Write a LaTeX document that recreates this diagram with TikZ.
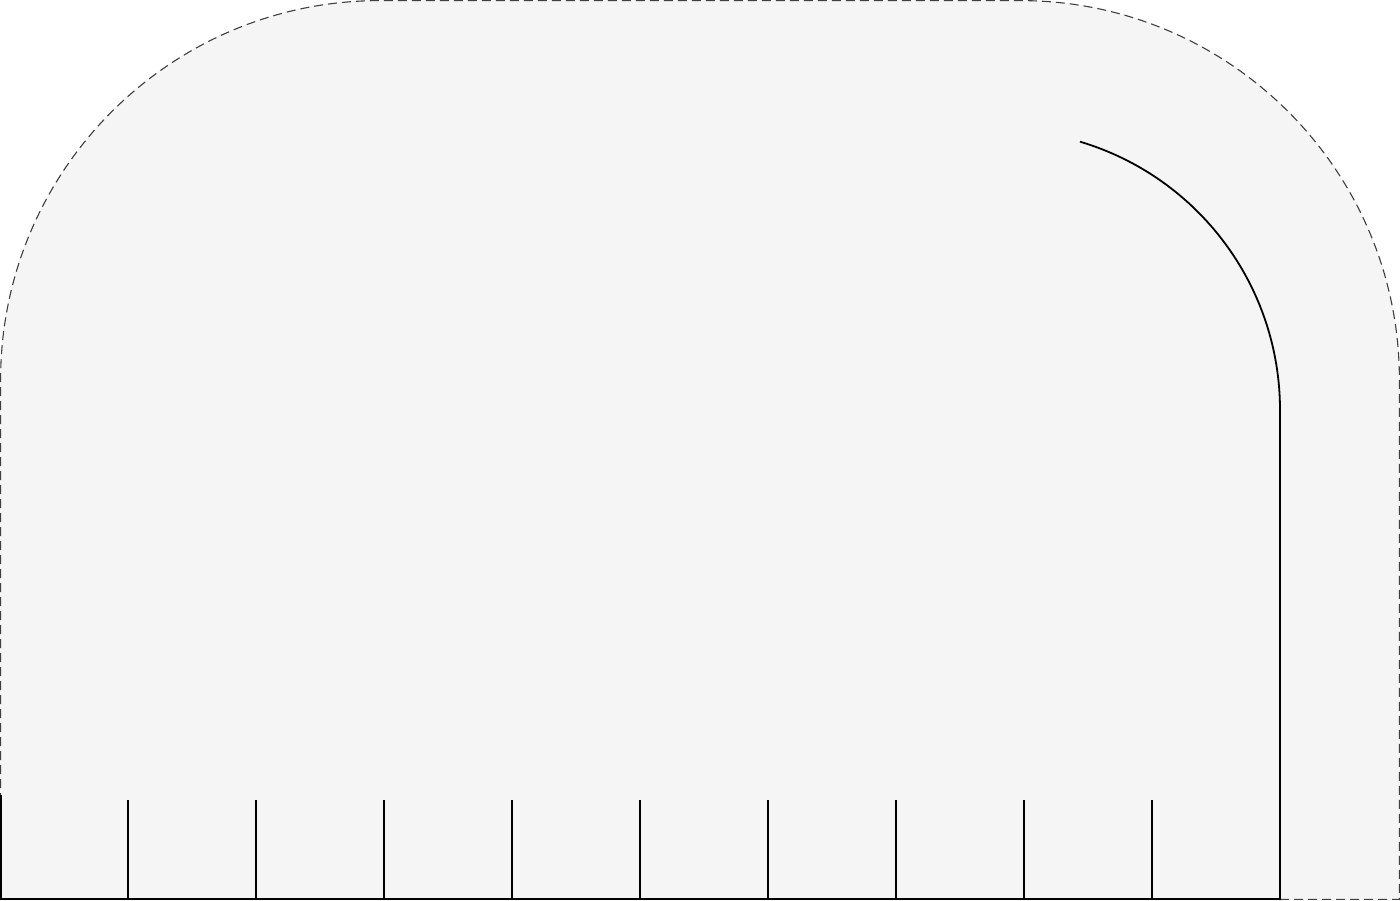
\documentclass[tikz,border=0pt]{standalone}
\begin{document}
\begin{tikzpicture}[x=1pt,y=1pt,
  outline/.style={draw=black!75, line width=1.1pt, dash pattern=on 9pt off 5pt},
  solidline/.style={draw=black, line width=1.8pt},
  bg/.style={fill=black!4}]
\useasboundingbox (0,0) rectangle (1400,900);
% filled shape
\fill[bg] (0,0) -- (0,520) arc[start angle=180,end angle=90,radius=380pt] -- (1020,900) arc[start angle=90,end angle=0,radius=380pt] -- (1400,0) -- cycle;
% dashed outline
\draw[outline] (1280,0.6) -- (1399.4,0.6) -- (1399.4,520) arc[start angle=0,end angle=90,radius=379.4pt] -- (380,899.4) arc[start angle=90,end angle=180,radius=379.4pt] -- (0.6,0);
% inner arc and vertical line
\coordinate (arcstart) at ({1000+280*cos(73.4)},{490+280*sin(73.4)});
\coordinate (base) at (1280,0);
\draw[solidline] (arcstart) arc[start angle=73.4,end angle=0,radius=280pt] -- (base);
% bottom line
\coordinate (bl) at (0,0.9);
\coordinate (br) at (1280,0.9);
\draw[solidline] (bl) -- (br);
% ticks
\foreach \k in {1,...,10} {
  \draw[solidline] (128*\k,0) -- (128*\k,100);
}
\draw[solidline] (0.9,0) -- (0.9,105);
\end{tikzpicture}
\end{document}
